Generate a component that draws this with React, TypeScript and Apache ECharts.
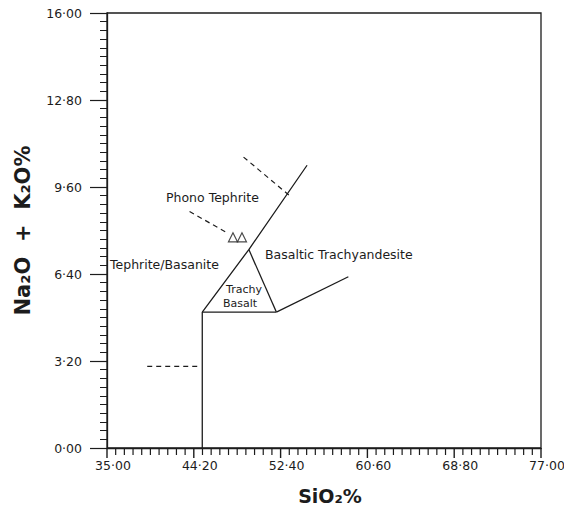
import React, { useEffect, useRef } from "react";
import * as echarts from "echarts";

// Axis ticks and labels (as printed on the diagram)
const xTickValues = [36, 44.2, 52.4, 60.6, 68.8, 77];
const xTickLabels = ["35·00", "44·20", "52·40", "60·60", "68·80", "77·00"];
const yTickLabels = ["0·00", "3·20", "6·40", "9·60", "12·80", "16·00"];

// Boundary lines of the TAS diagram (SiO2 %, Na2O + K2O %)
const basaltBoundary = [[45, 0], [45, 5]];
const trachybasaltBase = [[45, 5], [52, 5]];
const phonotephriteBoundary = [[45, 5], [49.4, 7.3], [54.9, 10.4]];
const trachybasaltRight = [[49.4, 7.3], [52, 5]];
const trachyandesiteBase = [[52, 5], [58.8, 6.3]];
const upperDashed = [[48.9, 10.7], [53.2, 9.3]];
const lowerDashed = [[43.8, 8.7], [47.4, 7.9]];
const basaniteDashed = [[39.8, 3], [44.8, 3]];

// Sample points (open triangles)
const samples = [[47.9, 7.75], [48.75, 7.75]];

const X_MIN = 36;
const X_MAX = 77;
const MINOR_SPLIT = 10;
const Y_MIN = 0;
const Y_MAX = 16;
const Y_STEP = 3.2;

const INK = "#1c1c1c";
const FONT = "DejaVu Sans";

// minor tick positions: each major interval split into ten
const xMinorTickValues: number[] = [];
for (let i = 0; i < xTickValues.length - 1; i++) {
  const a = xTickValues[i];
  const b = xTickValues[i + 1];
  for (let k = 1; k < MINOR_SPLIT; k++) {
    xMinorTickValues.push(Math.round((a + ((b - a) * k) / MINOR_SPLIT) * 1000) / 1000);
  }
}

export default function App() {
  const ref = useRef<HTMLDivElement>(null);

  useEffect(() => {
    if (!ref.current) return;
    const chart = echarts.init(ref.current, undefined, { renderer: "svg" });

    const solid = (data: number[][]) => ({
      type: "line",
      data,
      symbol: "none",
      silent: true,
      lineStyle: { color: INK, width: 1.3 },
    });
    const dashed = (data: number[][]) => ({
      type: "line",
      data,
      symbol: "none",
      silent: true,
      lineStyle: { color: INK, width: 1.2, type: [5, 4] },
    });

    const label = (text: string, x: number, y: number, size: number, align = "left") => ({
      type: "text",
      x,
      y,
      silent: true,
      style: {
        text,
        fill: INK,
        fontFamily: FONT,
        fontSize: size,
        textAlign: align,
        textVerticalAlign: "middle",
      },
    });

    const xLabelFor = (v: number) => {
      let best = 0;
      for (let i = 1; i < xTickValues.length; i++) {
        if (Math.abs(xTickValues[i] - v) < Math.abs(xTickValues[best] - v)) best = i;
      }
      return xTickLabels[best];
    };

    const texts = [
      label("Phono Tephrite", 166, 197, 12.5),
      label("Tephrite/Basanite", 110, 264, 12.5),
      label("Basaltic Trachyandesite", 265, 254, 12.5),
      label("Trachy", 244, 289.5, 11, "center"),
      label("Basalt", 240, 303.5, 11, "center"),
    ];

    chart.setOption({
      animation: false,
      backgroundColor: "#ffffff",
      grid: {
        left: 107,
        right: 23,
        top: 13,
        bottom: 66,
        show: true,
        borderColor: INK,
        borderWidth: 1.3,
        outerBoundsMode: "none",
      },
      xAxis: {
        type: "value",
        min: X_MIN,
        max: X_MAX,
        name: "SiO₂%",
        nameLocation: "middle",
        nameGap: 38,
        nameTextStyle: {
          fontFamily: FONT,
          fontSize: 19,
          fontWeight: "bold",
          color: INK,
          padding: [0, 0, 0, 12],
        },
        axisLine: { show: true, onZero: false, lineStyle: { color: INK, width: 1.3 } },
        axisTick: { show: false },
        minorTick: { show: false },
        splitLine: { show: false },
        minorSplitLine: { show: false },
        axisLabel: {
          margin: 11,
          fontFamily: FONT,
          fontSize: 12.5,
          color: INK,
          padding: [0, 0, 0, 12],
          customValues: xTickValues,
          formatter: (v: number) => xLabelFor(v),
        },
      },
      yAxis: {
        type: "value",
        min: Y_MIN,
        max: Y_MAX,
        interval: Y_STEP,
        name: "Na₂O  +  K₂O%",
        nameLocation: "middle",
        nameGap: 74,
        nameTextStyle: { fontFamily: FONT, fontSize: 21, fontWeight: "bold", color: INK },
        axisLine: { show: true, onZero: false, lineStyle: { color: INK, width: 1.3 } },
        axisTick: { show: true, length: 17, lineStyle: { color: INK, width: 1.2 } },
        minorTick: { show: true, splitNumber: 10, length: 7, lineStyle: { color: INK, width: 1 } },
        splitLine: { show: false },
        minorSplitLine: { show: false },
        axisLabel: {
          margin: 25,
          fontFamily: FONT,
          fontSize: 12.5,
          color: INK,
          formatter: (v: number) => yTickLabels[Math.round((v - Y_MIN) / Y_STEP)] ?? "",
        },
      },
      series: [
        solid(basaltBoundary),
        solid(trachybasaltBase),
        solid(phonotephriteBoundary),
        solid(trachybasaltRight),
        solid(trachyandesiteBase),
        dashed(upperDashed),
        dashed(lowerDashed),
        dashed(basaniteDashed),
        {
          type: "scatter",
          data: samples,
          symbol: "triangle",
          symbolSize: 9,
          silent: true,
          itemStyle: { color: "#ffffff", borderColor: INK, borderWidth: 1.2 },
        },
      ],
      graphic: texts,
    });

    // SiO2 tick marks as thin filled bars, placed through the x-axis scale
    const yBase = chart.convertToPixel({ yAxisIndex: 0 }, Y_MIN) as number;
    const tickBar = (v: number, len: number, width: number) => {
      const px = chart.convertToPixel({ xAxisIndex: 0 }, v) as number;
      return {
        type: "rect",
        silent: true,
        z: 10,
        shape: { x: px - width / 2, y: yBase, width, height: len },
        style: { fill: INK },
      };
    };
    chart.setOption({
      graphic: [
        ...texts,
        ...xTickValues.map((v) => tickBar(v, 10, 1.4)),
        ...xMinorTickValues.map((v) => tickBar(v, 7, 1.2)),
      ],
    });

    return () => chart.dispose();
  }, []);

  return (
    <div
      ref={ref}
      style={{ position: "fixed", left: 0, top: 0, width: 564, height: 514, background: "#fff" }}
    />
  );
}
